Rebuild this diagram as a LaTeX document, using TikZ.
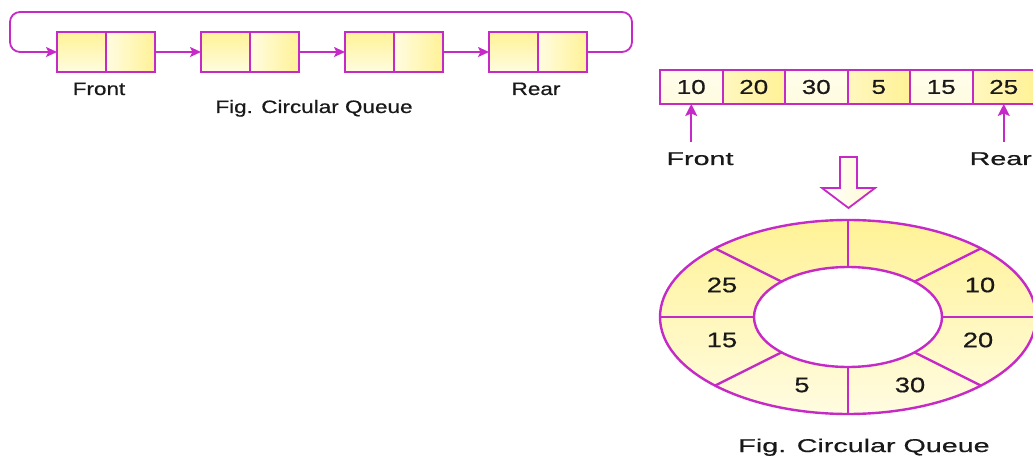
\documentclass[tikz,border=0pt]{standalone}
\usepackage{fontspec}
\setmainfont{Liberation Sans}
\newfontfamily\fL{Liberation Sans}[FakeStretch=1.25,FakeBold=0.6]
\newfontfamily\fR{Liberation Sans}[FakeStretch=1.55,FakeBold=0.6]
\newfontfamily\fN{Liberation Sans}[FakeStretch=1.3,FakeBold=0.6]
\usetikzlibrary{arrows.meta,calc}
\definecolor{mag}{RGB}{198,42,198}
\definecolor{yel}{RGB}{255,242,150}
\definecolor{pale}{RGB}{255,252,225}
\definecolor{ink}{RGB}{25,25,25}
\tikzset{
  lcell/.style={draw=mag, line width=1.8pt, minimum width=49pt, minimum height=40pt, inner sep=0pt, outer sep=0pt},
  lcA/.style={lcell, top color=yel, bottom color=pale},
  lcB/.style={lcell, left color=pale, right color=yel},
  acell/.style={draw=mag, line width=2pt, minimum width=62.5pt, minimum height=34pt, inner sep=0pt, outer sep=0pt, text=ink, font=\fN\fontsize{20}{20}\selectfont},
  acLight/.style={acell, top color=pale!70!white, bottom color=pale},
  acYel/.style={acell, left color=yel!60, right color=yel},
  conn/.style={draw=mag, line width=1.8pt, -{Stealth[length=11pt,width=10pt,inset=2.5pt]}},
  parr/.style={draw=mag, line width=2pt, -{Stealth[length=12pt,width=12pt,inset=2.5pt]}},
  lblL/.style={font=\fL\fontsize{18}{20}\selectfont, text=ink, inner sep=0pt, anchor=base},
  lblR/.style={font=\fR\fontsize{18.5}{20}\selectfont, text=ink, inner sep=0pt, anchor=base},
  rnum/.style={font=\fN\fontsize{21}{21}\selectfont, text=ink, inner sep=0pt},
  ring/.style={draw=mag, line width=2.4pt}
}
\begin{document}
\begin{tikzpicture}[x=1pt,y=-1pt]
\useasboundingbox (0,0) rectangle (1033,457);
\clip (0,0) rectangle (1033,457);
% ---------------- left: linked circular queue
\foreach \i/\L in {1/57,2/201,3/345,4/489}{
  \node[lcA] (b\i l) at (\L+24.5,52) {};
  \node[lcB] (b\i r) at (\L+73.5,52) {};
}
\draw[conn] (b1r.east) -- (b2l.west);
\draw[conn] (b2r.east) -- (b3l.west);
\draw[conn] (b3r.east) -- (b4l.west);
\coordinate (lp1) at (632,52);
\coordinate (lp2) at (632,12);
\coordinate (lp3) at (10,12);
\coordinate (lp4) at (10,52);
\draw[conn, rounded corners=10pt] (b4r.east) -- (lp1) -- (lp2) -- (lp3) -- (lp4) -- (b1l.west);
\node[lblL] (lfront) at (99,95) {Front};
\node[lblL] (lrear) at (536,95) {Rear};
\node[lblL] (lcap) at (314,113) {Fig. Circular Queue};
% ---------------- right: array
\node[acLight] (a1) at (691.25,87) {10};
\node[acYel]   (a2) at (753.75,87) {20};
\node[acLight] (a3) at (816.25,87) {30};
\node[acYel]   (a4) at (878.75,87) {5};
\node[acLight] (a5) at (941.25,87) {15};
\node[acYel]   (a6) at (1003.75,87) {25};
\coordinate (fa) at (691.25,142);
\coordinate (ra) at (1003.75,142);
\draw[parr] (fa) -- (a1.south);
\draw[parr] (ra) -- (a6.south);
\node[lblR] (rfront) at (700,165) {Front};
\node[lblR, anchor=base east] (rrear) at (1032,165) {Rear};
% hollow arrow
\draw[draw=mag, line width=1.8pt, left color=white, right color=yel!45, line join=miter]
  (840,157) -- (857,157) -- (857,188) -- (875,188) -- (848.5,208) -- (822,188) -- (840,188) -- cycle;
% ring
\coordinate (c) at (848,317);
\fill[even odd rule, top color=yel, bottom color=pale]
  (c) ellipse [x radius=188, y radius=97] (c) ellipse [x radius=94, y radius=50];
\foreach \t in {0,45,90,135,180,225,270,315}{
  \draw[ring] ($(c)+(\t:94 and 50)$) -- ($(c)+(\t:188 and 97)$);
}
\draw[ring] (c) ellipse [x radius=188, y radius=97];
\draw[ring, fill=white] (c) ellipse [x radius=94, y radius=50];
\node[rnum] (r25) at (722,285) {25};
\node[rnum] (r10) at (980,285) {10};
\node[rnum] (r15) at (722,340) {15};
\node[rnum] (r20) at (978,340) {20};
\node[rnum] (r5)  at (802,385) {5};
\node[rnum] (r30) at (910,385) {30};
\node[lblR] (rcap) at (864,452) {Fig. Circular Queue};
\end{tikzpicture}
\end{document}
